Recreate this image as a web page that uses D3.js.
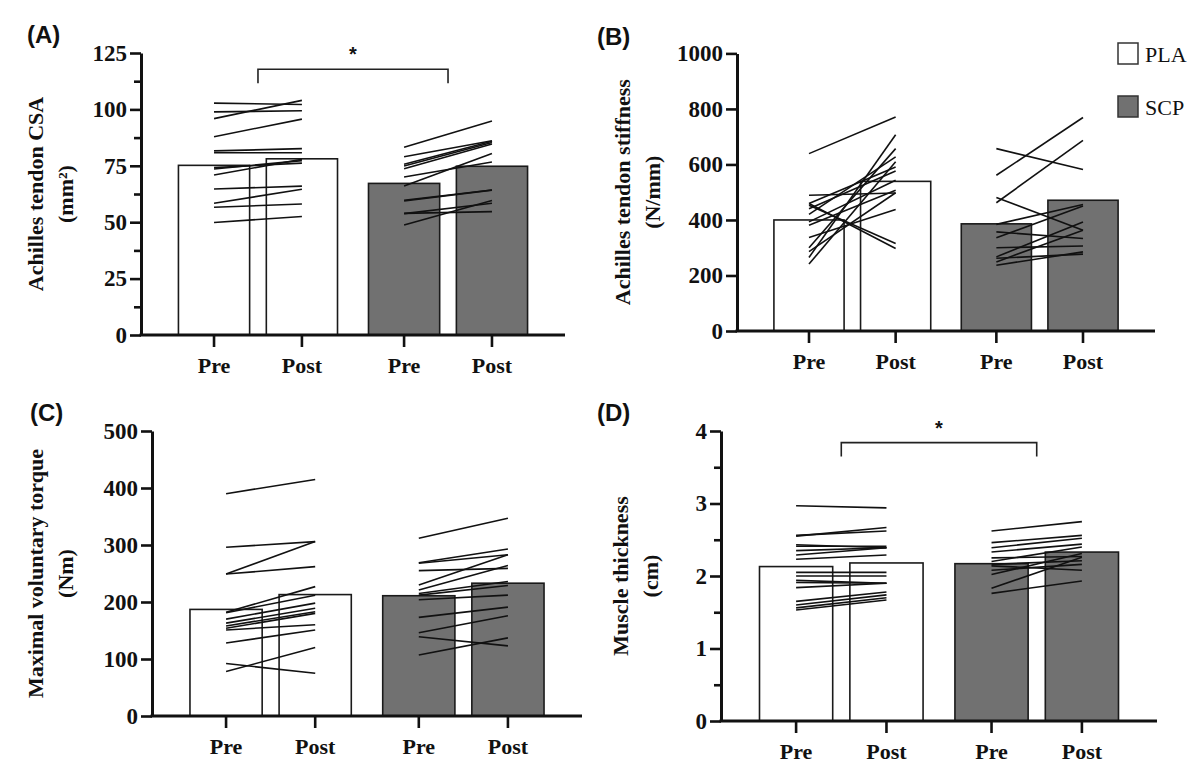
<!DOCTYPE html>
<html>
<head>
<meta charset="utf-8">
<script src="https://cdn.jsdelivr.net/npm/d3@7"></script>
<style>
body { margin: 0; background: #fff; }
</style>
</head>
<body>
<svg id="chart" width="1200" height="779"></svg>
<script>
var groups = ["PLA", "SCP"];
var times = ["Pre", "Post"];

// bar heights: PLA pre, PLA post, SCP pre, SCP post
var csaMeans = [75.2, 78.1, 67.2, 74.8];
var stiffMeans = [400, 539, 386, 471];
var mvtMeans = [187, 213, 211, 233];
var mtMeans = [2.13, 2.18, 2.17, 2.33];

// individual subjects (A) tendon CSA
var csaPlaPre = [102.8, 98.9, 95.9, 87.9, 81.6, 80.8, 74.2, 73.6, 70.9, 64.7, 58.4, 56.6, 49.9];
var csaPlaPost = [102.2, 99.4, 104.0, 95.7, 82.6, 80.8, 76.2, 77.3, 77.9, 66.0, 64.6, 58.1, 52.5];
var csaScpPre = [83.2, 79.0, 75.7, 74.9, 73.7, 70.0, 66.0, 59.7, 59.4, 53.9, 53.8, 48.8];
var csaScpPost = [94.9, 86.1, 85.9, 85.3, 84.7, 76.7, 80.5, 64.3, 64.2, 54.7, 58.4, 59.6];

// (B) stiffness
var stiffPlaPre = [639, 489, 459, 453, 459, 440, 420, 393, 381, 337, 300, 286, 265, 241];
var stiffPlaPost = [771, 497, 297, 315, 591, 576, 627, 543, 507, 438, 657, 498, 707, 610];
var stiffScpPre = [657, 561, 462, 481, 384, 336, 357, 300, 267, 249, 237, 262];
var stiffScpPost = [582, 769, 687, 363, 456, 450, 333, 306, 393, 363, 285, 277];

// (C) MVT
var mvtPlaPre = [390, 296, 249, 249, 182, 181, 170, 163, 158, 154, 151, 128, 92, 78];
var mvtPlaPost = [415, 306, 306, 262, 227, 212, 198, 189, 183, 180, 160, 151, 75, 120];
var mvtScpPre = [312, 269, 268, 255, 230, 221, 215, 212, 204, 173, 146, 139, 107];
var mvtScpPost = [347, 293, 283, 259, 283, 264, 236, 229, 212, 191, 176, 123, 137];

// (D) muscle thickness
var mtPlaPre = [2.97, 2.55, 2.56, 2.43, 2.41, 2.35, 2.29, 2.23, 2.05, 2.00, 1.94, 1.91, 1.84, 1.65, 1.60, 1.56, 1.53];
var mtPlaPost = [2.94, 2.67, 2.62, 2.39, 2.41, 2.39, 2.39, 2.29, 2.05, 2.00, 1.90, 1.90, 1.90, 1.78, 1.74, 1.70, 1.67];
var mtScpPre = [2.62, 2.46, 2.39, 2.33, 2.25, 2.20, 2.16, 2.14, 2.02, 2.08, 1.83, 1.76];
var mtScpPost = [2.75, 2.56, 2.52, 2.44, 2.27, 2.40, 2.21, 2.08, 2.31, 2.16, 2.26, 1.93];

var serif = "'Liberation Serif', 'Times New Roman', serif";
var sans = "'Liberation Sans', Arial, sans-serif";
var grey = "#717171";

var svg = d3.select("#chart");

var panels = [
	{ label: "(A)", lx: 27, ly: 43, left: 141, top: 53, bottom: 335, width: 424,
	  max: 125, step: 25, minor: true, title: ["Achilles tendon CSA", "(mm\u00b2)"], tdx: -106,
	  means: csaMeans, pla: [csaPlaPre, csaPlaPost], scp: [csaScpPre, csaScpPost], bracket: 117.8 },
	{ label: "(B)", lx: 597, ly: 45, left: 737, top: 53.4, bottom: 331, width: 418,
	  max: 1000, step: 200, minor: false, title: ["Achilles tendon stiffness", "(N/mm)"], tdx: -115,
	  means: stiffMeans, pla: [stiffPlaPre, stiffPlaPost], scp: [stiffScpPre, stiffScpPost] },
	{ label: "(C)", lx: 30, ly: 421, left: 152, top: 431, bottom: 716, width: 430,
	  max: 500, step: 100, minor: false, title: ["Maximal voluntary torque", "(Nm)"], tdx: -117,
	  means: mvtMeans, pla: [mvtPlaPre, mvtPlaPost], scp: [mvtScpPre, mvtScpPost] },
	{ label: "(D)", lx: 597, ly: 421, left: 721, top: 431, bottom: 721, width: 436,
	  max: 4, step: 1, minor: true, title: ["Muscle thickness", "(cm)"], tdx: -101,
	  means: mtMeans, pla: [mtPlaPre, mtPlaPost], scp: [mtScpPre, mtScpPost], bracket: 3.84 }
];

function drawPanel(p) {
	var g = svg.append("g");

	var y = d3.scaleLinear().domain([0, p.max]).range([p.bottom, p.top]);
	var outer = d3.scaleBand().domain(groups)
		.range([p.left, p.left + p.width]).paddingInner(0.163).paddingOuter(0.197);
	var inner = d3.scaleBand().domain(times)
		.range([0, outer.bandwidth()]).paddingInner(0.19);
	function cx(grp, t) { return outer(grp) + inner(t) + inner.bandwidth() / 2; }

	var bars = [];
	groups.forEach(function(grp, i) {
		times.forEach(function(t, j) {
			bars.push({ group: grp, time: t, value: p.means[i * 2 + j] });
		});
	});

	//BARS
	g.selectAll(".bar").data(bars).enter()
	.append("rect")
	.attr("x", function(d) { return outer(d.group) + inner(d.time); })
	.attr("y", function(d) { return y(d.value); })
	.attr("width", inner.bandwidth())
	.attr("height", function(d) { return y(0) - y(d.value); })
	.attr("fill", function(d) { return d.group == "PLA" ? "#fff" : grey; })
	.attr("stroke", "#1a1a1a")
	.attr("stroke-width", 1.6);

	//subject lines
	var lines = [];
	[p.pla, p.scp].forEach(function(pair, i) {
		pair[0].forEach(function(v, k) {
			lines.push({ group: groups[i], pre: v, post: pair[1][k] });
		});
	});
	g.selectAll(".subj").data(lines).enter()
	.append("line")
	.attr("x1", function(d) { return cx(d.group, "Pre"); })
	.attr("y1", function(d) { return y(d.pre); })
	.attr("x2", function(d) { return cx(d.group, "Post"); })
	.attr("y2", function(d) { return y(d.post); })
	.attr("stroke", "#111")
	.attr("stroke-width", 1.6);

	//Y AXIS
	var yAxis = d3.axisLeft(y)
		.tickValues(d3.range(0, p.max + p.step / 2, p.step))
		.tickFormat(d3.format("d"))
		.tickSize(11).tickSizeOuter(0).tickPadding(3);
	var ya = g.append("g").attr("transform", "translate(" + p.left + ",0)").call(yAxis);
	ya.select(".domain").attr("stroke-width", 3).attr("stroke", "#111");
	ya.selectAll(".tick line").attr("stroke-width", 2.6).attr("stroke", "#111");
	ya.selectAll(".tick text")
	.attr("font-family", serif).attr("font-weight", "bold").attr("font-size", 23).attr("fill", "#111");

	if (p.minor) {
		var minorVals = d3.range(p.step / 2, p.max, p.step);
		var ym = g.append("g").attr("transform", "translate(" + p.left + ",0)")
			.call(d3.axisLeft(y).tickValues(minorVals).tickSize(7).tickFormat(""));
		ym.select(".domain").remove();
		ym.selectAll(".tick line").attr("stroke-width", 2.6).attr("stroke", "#111");
	}

	//X AXIS
	g.append("line")
	.attr("x1", p.left - 1.5).attr("x2", p.left + p.width)
	.attr("y1", y(0)).attr("y2", y(0))
	.attr("stroke", "#111").attr("stroke-width", 3);

	g.selectAll(".xtick").data(bars).enter()
	.append("line")
	.attr("x1", function(d) { return cx(d.group, d.time); })
	.attr("x2", function(d) { return cx(d.group, d.time); })
	.attr("y1", y(0)).attr("y2", y(0) + 12)
	.attr("stroke", "#111").attr("stroke-width", 2.6);

	g.selectAll(".xlab").data(bars).enter()
	.append("text")
	.attr("x", function(d) { return cx(d.group, d.time); })
	.attr("y", y(0) + 38)
	.attr("text-anchor", "middle")
	.attr("font-family", serif).attr("font-weight", "bold").attr("font-size", 22)
	.attr("fill", "#111")
	.text(function(d) { return d.time; });

	//axis title, two lines
	var midY = (p.top + p.bottom) / 2;
	p.title.forEach(function(t, i) {
		g.append("text")
		.attr("transform", "translate(" + (p.left + p.tdx + i * 30) + "," + midY + ") rotate(-90)")
		.attr("text-anchor", "middle")
		.attr("dy", "0.35em")
		.attr("font-family", serif).attr("font-weight", "bold").attr("font-size", 22)
		.attr("fill", "#111")
		.text(t);
	});

	//panel letter
	g.append("text")
	.attr("x", p.lx).attr("y", p.ly)
	.attr("font-family", sans).attr("font-weight", "bold").attr("font-size", 24)
	.attr("fill", "#111")
	.text(p.label);

	//significance bracket
	if (p.bracket) {
		var bx1 = outer("PLA") + outer.bandwidth() / 2;
		var bx2 = outer("SCP") + outer.bandwidth() / 2;
		var by = y(p.bracket);
		g.append("path")
		.attr("d", "M" + bx1 + "," + (by + 14) + "V" + by + "H" + bx2 + "V" + (by + 14))
		.attr("fill", "none").attr("stroke", "#222").attr("stroke-width", 1.6);
		g.append("text")
		.attr("x", (bx1 + bx2) / 2).attr("y", by - 8)
		.attr("text-anchor", "middle")
		.attr("font-family", sans).attr("font-weight", "bold").attr("font-size", 20)
		.attr("fill", "#111")
		.text("*");
	}
}

panels.forEach(drawPanel);

//legend
var legend = svg.append("g");
legend.selectAll("rect").data(groups).enter()
.append("rect")
.attr("x", 1118)
.attr("y", function(d, i) { return 43 + i * 53; })
.attr("width", 20).attr("height", 21)
.attr("fill", function(d) { return d == "PLA" ? "#fff" : grey; })
.attr("stroke", "#333").attr("stroke-width", 1.5);
legend.selectAll("text").data(groups).enter()
.append("text")
.attr("x", 1145)
.attr("y", function(d, i) { return 62 + i * 53; })
.attr("font-family", serif).attr("font-size", 22).attr("fill", "#111")
.text(function(d) { return d; });
</script>
</body>
</html>
